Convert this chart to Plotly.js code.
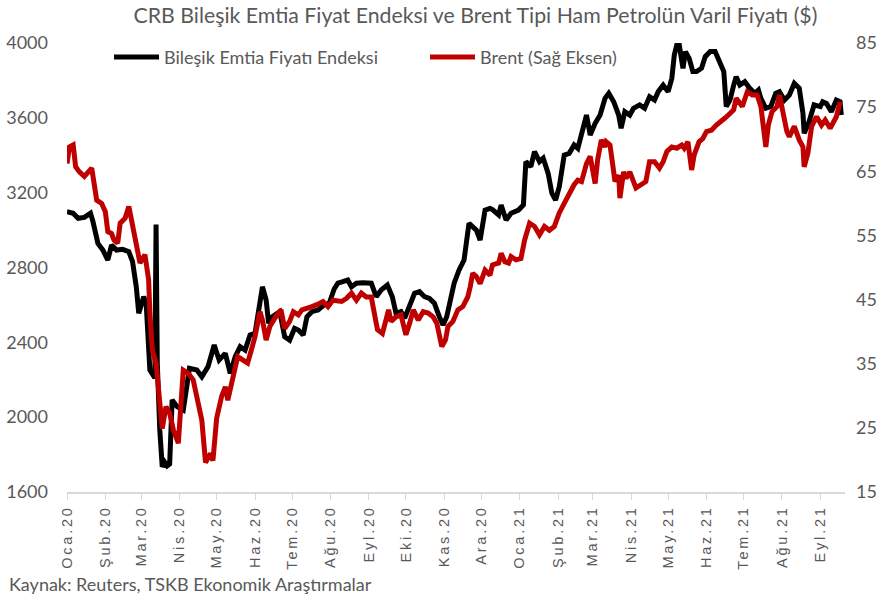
<!DOCTYPE html>
<html>
<head>
<meta charset="utf-8">
<script src="https://cdn.plot.ly/plotly-3.0.1.min.js"></script>
<style>
  html, body { margin: 0; padding: 0; background: #ffffff; }
  #chart { width: 892px; height: 597px; }
  #chart .xtick text { letter-spacing: 2.8px; }
</style>
</head>
<body>
<div id="chart"></div>
<script>
// ---- Data ----
const titleText = "CRB Bileşik Emtia Fiyat Endeksi ve Brent Tipi Ham Petrolün Varil Fiyatı ($)";
const sourceText = "Kaynak: Reuters, TSKB Ekonomik Araştırmalar";
const crbName = "Bileşik Emtia Fiyatı Endeksi";
const brentName = "Brent (Sağ Eksen)";

const monthTickDates = ["2020-01-01","2020-02-01","2020-03-01","2020-04-01","2020-05-01","2020-06-01",
  "2020-07-01","2020-08-01","2020-09-01","2020-10-01","2020-11-01","2020-12-01",
  "2021-01-01","2021-02-01","2021-03-01","2021-04-01","2021-05-01","2021-06-01",
  "2021-07-01","2021-08-01","2021-09-01"];
const monthTickLabels = ["Oca.20","Şub.20","Mar.20","Nis.20","May.20","Haz.20","Tem.20","Ağu.20",
  "Eyl.20","Eki.20","Kas.20","Ara.20","Oca.21","Şub.21","Mar.21","Nis.21","May.21","Haz.21",
  "Tem.21","Ağu.21","Eyl.21"];

const leftTicks = [1600, 2000, 2400, 2800, 3200, 3600, 4000];
const rightTicks = [15, 25, 35, 45, 55, 65, 75, 85];

const crbDates = ["2020-01-01","2020-01-06","2020-01-10","2020-01-15","2020-01-20","2020-01-22","2020-01-26",
  "2020-01-30","2020-02-03","2020-02-06","2020-02-10","2020-02-15","2020-02-20","2020-02-23","2020-02-26",
  "2020-02-28","2020-03-03","2020-03-05","2020-03-08","2020-03-11","2020-03-12","2020-03-13","2020-03-14",
  "2020-03-16","2020-03-18","2020-03-20","2020-03-22","2020-03-24","2020-03-26","2020-03-30","2020-04-04",
  "2020-04-09","2020-04-15","2020-04-19","2020-04-24","2020-04-29","2020-05-03","2020-05-08","2020-05-12",
  "2020-05-16","2020-05-20","2020-05-24","2020-05-28","2020-06-01","2020-06-05","2020-06-07","2020-06-10",
  "2020-06-12","2020-06-15","2020-06-21","2020-06-25","2020-06-29","2020-07-03","2020-07-06","2020-07-10",
  "2020-07-13","2020-07-17","2020-07-22","2020-07-27","2020-07-31","2020-08-04","2020-08-07","2020-08-11",
  "2020-08-15","2020-08-18","2020-08-22","2020-08-27","2020-08-31","2020-09-03","2020-09-07","2020-09-11",
  "2020-09-16","2020-09-20","2020-09-23","2020-09-27","2020-09-30","2020-10-04","2020-10-08","2020-10-12",
  "2020-10-16","2020-10-20","2020-10-24","2020-10-28","2020-10-31","2020-11-03","2020-11-05","2020-11-09",
  "2020-11-13","2020-11-17","2020-11-21","2020-11-27","2020-11-30","2020-12-04","2020-12-08","2020-12-10",
  "2020-12-15","2020-12-17","2020-12-21","2020-12-25","2020-12-31","2021-01-04","2021-01-06","2021-01-10",
  "2021-01-13","2021-01-17","2021-01-20","2021-01-24","2021-01-27","2021-01-30","2021-02-02","2021-02-06",
  "2021-02-10","2021-02-14","2021-02-17","2021-02-21","2021-02-24","2021-02-27","2021-03-03","2021-03-07",
  "2021-03-10","2021-03-11","2021-03-14","2021-03-18","2021-03-22","2021-03-24","2021-03-27","2021-03-31",
  "2021-04-03","2021-04-08","2021-04-12","2021-04-16","2021-04-20","2021-04-23","2021-04-27","2021-05-01",
  "2021-05-04","2021-05-06","2021-05-08","2021-05-10","2021-05-13","2021-05-15","2021-05-18","2021-05-21",
  "2021-05-24","2021-05-28","2021-05-31","2021-06-04","2021-06-08","2021-06-12","2021-06-15","2021-06-17",
  "2021-06-20","2021-06-23","2021-06-25","2021-06-28","2021-07-02","2021-07-06","2021-07-10","2021-07-13",
  "2021-07-15","2021-07-19","2021-07-23","2021-07-27","2021-07-30","2021-08-03","2021-08-07","2021-08-11",
  "2021-08-15","2021-08-18","2021-08-19","2021-08-23","2021-08-27","2021-09-01","2021-09-03","2021-09-06",
  "2021-09-10","2021-09-14","2021-09-17","2021-09-18"];
const crbValues = [3098,3090,3063,3068,3090,3045,2929,
  2893,2840,2920,2893,2897,2884,2831,2697,
  2555,2644,2609,2252,2216,2210,3030,2290,
  1932,1735,1760,1740,1750,2092,2056,2038,
  2261,2252,2216,2270,2386,2306,2341,2234,
  2324,2377,2359,2439,2448,2644,2697,2626,
  2502,2537,2564,2430,2412,2475,2466,2439,
  2537,2564,2573,2600,2609,2685,2716,2724,
  2733,2697,2716,2719,2716,2716,2644,2680,
  2706,2644,2555,2564,2529,2591,2662,2671,
  2644,2635,2609,2537,2493,2537,2591,2716,
  2787,2840,3036,3000,2947,3107,3116,3110,
  3081,3134,3054,3090,3107,3134,3366,3339,
  3419,3366,3384,3303,3197,3161,3232,3401,
  3410,3455,3437,3535,3615,3508,3571,3615,
  3695,3704,3731,3686,3615,3544,3633,3615,
  3651,3669,3651,3713,3695,3740,3775,3740,
  3811,3936,3989,3989,3865,3954,3918,3847,
  3847,3865,3927,3954,3954,3900,3847,3660,
  3695,3775,3820,3775,3793,3758,3731,3749,
  3704,3651,3660,3731,3740,3695,3722,3784,
  3758,3624,3517,3580,3669,3660,3686,3677,
  3633,3695,3686,3615];

const brentDates = ["2020-01-01","2020-01-03","2020-01-06","2020-01-08","2020-01-11","2020-01-15","2020-01-21",
  "2020-01-23","2020-01-25","2020-01-29","2020-02-01","2020-02-03","2020-02-06","2020-02-08","2020-02-11",
  "2020-02-13","2020-02-17","2020-02-20","2020-02-23","2020-02-26","2020-02-29","2020-03-04","2020-03-07",
  "2020-03-08","2020-03-10","2020-03-13","2020-03-16","2020-03-18","2020-03-21","2020-03-24","2020-03-27",
  "2020-03-31","2020-04-04","2020-04-08","2020-04-12","2020-04-16","2020-04-19","2020-04-22","2020-04-26",
  "2020-04-28","2020-05-01","2020-05-05","2020-05-08","2020-05-10","2020-05-14","2020-05-18","2020-05-22",
  "2020-05-26","2020-05-29","2020-06-01","2020-06-05","2020-06-07","2020-06-10","2020-06-13","2020-06-17",
  "2020-06-20","2020-06-22","2020-06-25","2020-06-29","2020-07-02","2020-07-06","2020-07-09","2020-07-13",
  "2020-07-17","2020-07-21","2020-07-26","2020-07-30","2020-08-03","2020-08-10","2020-08-14","2020-08-18",
  "2020-08-22","2020-08-26","2020-08-30","2020-09-03","2020-09-06","2020-09-08","2020-09-12","2020-09-17",
  "2020-09-19","2020-09-23","2020-09-27","2020-10-01","2020-10-04","2020-10-07","2020-10-11","2020-10-15",
  "2020-10-19","2020-10-23","2020-10-26","2020-10-30","2020-11-02","2020-11-04","2020-11-08","2020-11-12",
  "2020-11-16","2020-11-20","2020-11-22","2020-11-24","2020-11-27","2020-11-30","2020-12-04","2020-12-08",
  "2020-12-10","2020-12-15","2020-12-17","2020-12-20","2020-12-23","2020-12-25","2020-12-29","2021-01-02",
  "2021-01-05","2021-01-09","2021-01-13","2021-01-17","2021-01-21","2021-01-25","2021-01-29","2021-02-02",
  "2021-02-06","2021-02-10","2021-02-14","2021-02-17","2021-02-20","2021-02-24","2021-02-27","2021-03-03",
  "2021-03-05","2021-03-08","2021-03-11","2021-03-12","2021-03-15","2021-03-18","2021-03-19","2021-03-22",
  "2021-03-23","2021-03-26","2021-03-28","2021-03-31","2021-04-03","2021-04-05","2021-04-09","2021-04-13",
  "2021-04-16","2021-04-20","2021-04-24","2021-04-27","2021-04-30","2021-05-04","2021-05-08","2021-05-12",
  "2021-05-14","2021-05-17","2021-05-20","2021-05-22","2021-05-26","2021-05-29","2021-06-01","2021-06-05",
  "2021-06-09","2021-06-13","2021-06-16","2021-06-20","2021-06-23","2021-06-25","2021-06-27","2021-06-30",
  "2021-07-04","2021-07-08","2021-07-12","2021-07-15","2021-07-19","2021-07-21","2021-07-24","2021-07-28",
  "2021-07-30","2021-08-02","2021-08-05","2021-08-07","2021-08-11","2021-08-15","2021-08-18","2021-08-19",
  "2021-08-22","2021-08-25","2021-08-29","2021-09-02","2021-09-05","2021-09-09","2021-09-12","2021-09-14",
  "2021-09-17"];
const brentValues = [66.2,68.8,69.1,65.7,64.9,64.2,65.5,
  63.1,60.5,60.0,58.7,55.6,55.3,54.3,53.8,
  56.9,57.7,59.5,56.4,53.8,50.7,52.0,48.1,
  42.9,37.1,35.1,29.9,24.9,28.3,27.3,24.7,
  22.6,34.0,33.5,32.5,28.8,26.2,19.6,21.0,
  19.9,26.5,29.9,31.4,29.3,33.2,36.1,35.6,
  35.1,37.1,39.2,43.1,41.8,38.7,40.8,42.1,
  43.1,43.4,40.5,41.6,43.1,42.6,43.4,43.6,
  43.9,44.2,44.7,43.9,44.9,44.7,45.2,46.0,
  44.9,46.0,45.4,45.4,42.3,40.3,39.7,43.4,
  41.6,42.3,42.6,39.5,41.3,43.4,41.8,43.1,
  42.9,42.3,41.3,37.7,38.7,40.8,41.6,43.4,
  43.9,45.4,47.0,49.1,48.6,47.5,49.6,48.8,
  50.4,50.7,52.2,50.9,50.7,51.7,51.2,51.4,
  54.3,56.9,56.4,55.1,56.4,55.8,56.4,58.5,
  60.0,61.6,62.9,63.6,63.4,66.2,67.3,63.1,
  66.8,69.9,68.8,69.6,69.1,64.9,63.4,64.4,
  60.8,64.9,63.9,64.9,63.4,62.4,62.9,63.4,
  66.5,66.5,65.5,66.5,68.1,68.8,68.6,69.1,
  68.6,69.6,65.2,67.5,69.6,70.1,71.2,71.4,
  72.2,72.7,73.3,74.0,74.6,76.4,75.8,75.1,
  77.4,76.9,76.9,75.1,68.8,72.2,74.3,75.1,
  76.9,73.5,71.2,70.4,72.0,69.9,68.8,65.7,
  67.8,72.0,73.5,72.2,73.0,71.7,73.0,73.5,
  75.8];

// ---- Styling ----
const gray = "#595959";
const axisGray = "#d9d9d9";
const mainFont = "Lato, 'Noto Sans', sans-serif";
const tickFontX = "'Liberation Sans', Arial, sans-serif";

const traces = [
  {
    x: crbDates, y: crbValues, name: crbName, type: "scatter", mode: "lines",
    line: { color: "#000000", width: 5 }, yaxis: "y"
  },
  {
    x: brentDates, y: brentValues, name: brentName, type: "scatter", mode: "lines",
    line: { color: "#c00000", width: 5 }, yaxis: "y2"
  }
];

const layout = {
  width: 892, height: 597,
  paper_bgcolor: "#ffffff", plot_bgcolor: "#ffffff",
  margin: { l: 67, r: 47, t: 43, b: 105 },
  title: {
    text: titleText,
    font: { family: mainFont, size: 21.3, color: gray },
    x: 0.533, xanchor: "center", xref: "container",
    y: 1 - 16 / 597, yanchor: "middle", yref: "container"
  },
  showlegend: true,
  legend: {
    orientation: "h", x: 0.054, xanchor: "left", y: 0.968, yanchor: "middle",
    font: { family: mainFont, size: 18, color: gray },
    bgcolor: "rgba(0,0,0,0)", entrywidth: 256, entrywidthmode: "pixels",
    itemwidth: 45
  },
  xaxis: {
    type: "date", range: ["2020-01-01", "2021-09-21"],
    tickvals: monthTickDates, ticktext: monthTickLabels, tickangle: -90,
    tickfont: { family: tickFontX, size: 14.5, color: gray },
    ticks: "outside", ticklen: 6, tickcolor: axisGray, tickwidth: 1,
    showline: true, linecolor: axisGray, linewidth: 1.5,
    showgrid: false, zeroline: false, fixedrange: true
  },
  yaxis: {
    range: [1600, 4000], tickvals: leftTicks,
    tickfont: { family: mainFont, size: 18, color: gray },
    showgrid: false, zeroline: false, showline: false, ticks: "",
    ticklabelstandoff: 18
  },
  yaxis2: {
    range: [15, 85], tickvals: rightTicks, overlaying: "y", side: "right",
    tickfont: { family: mainFont, size: 18, color: gray },
    showgrid: false, zeroline: false, showline: false, ticks: "",
    ticklabelstandoff: 10
  },
  annotations: [
    {
      text: sourceText, xref: "paper", yref: "paper",
      x: -0.077, xanchor: "left", y: -0.205, yanchor: "middle", showarrow: false,
      font: { family: mainFont, size: 18, color: gray }
    }
  ]
};

Plotly.newPlot("chart", traces, layout, { staticPlot: true, displayModeBar: false });
</script>
</body>
</html>
